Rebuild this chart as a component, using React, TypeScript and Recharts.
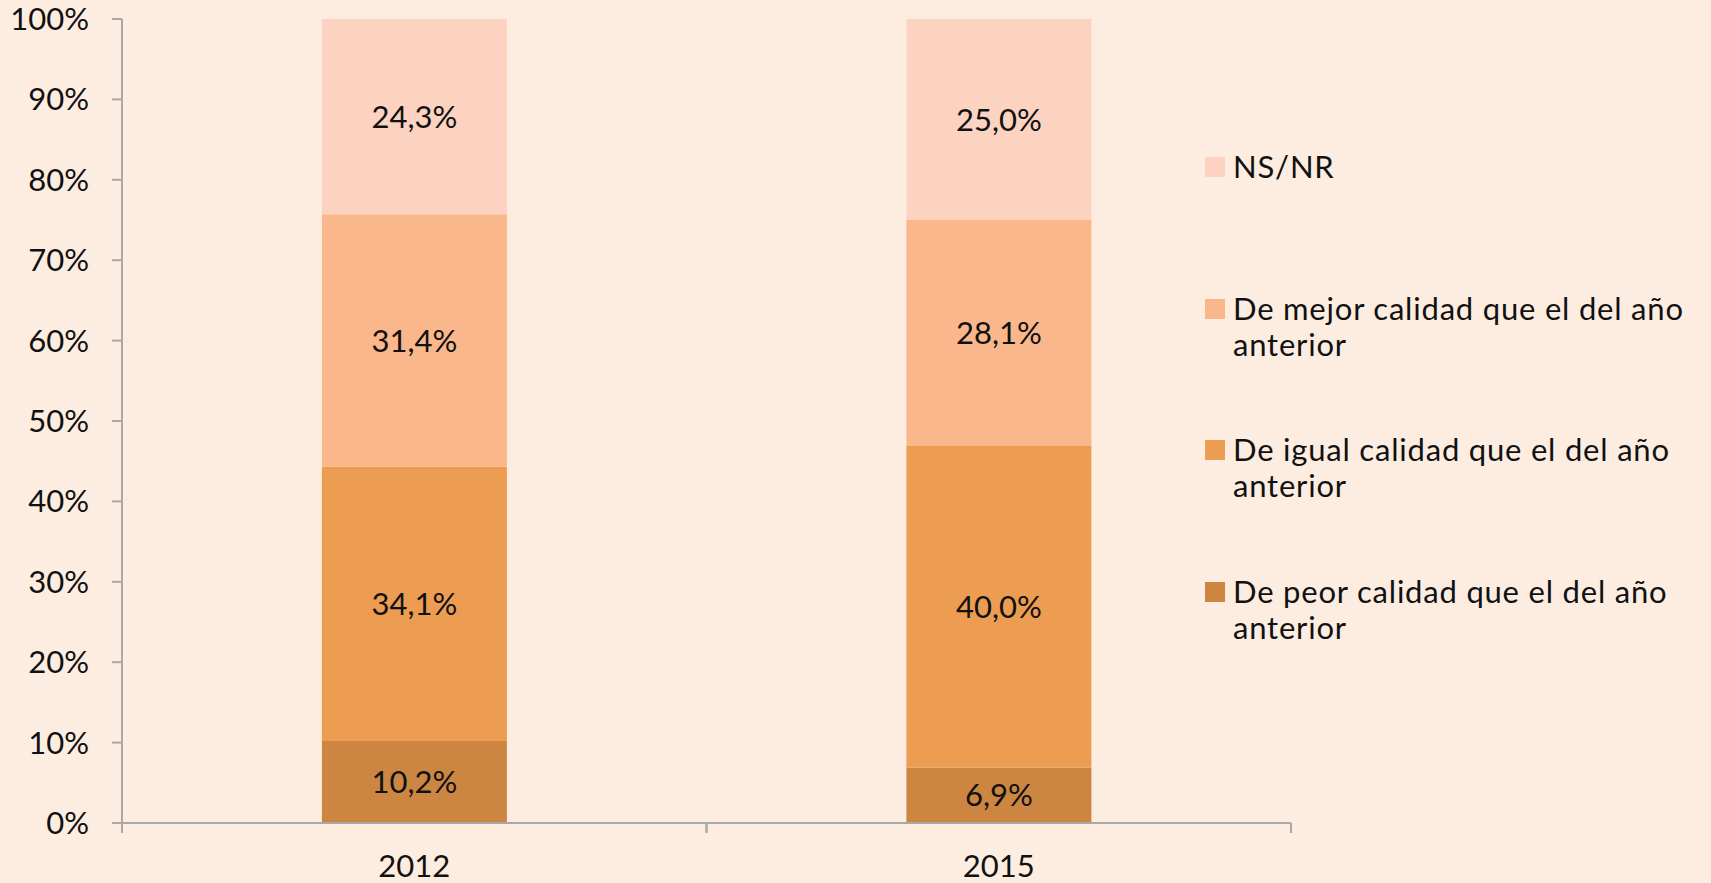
import React from 'react';
import { BarChart, Bar, XAxis, YAxis, LabelList, Legend } from 'recharts';

const categories = ['2012', '2015'];
const seriesKeys = ['peor', 'igual', 'mejor', 'nsnr'];
const seriesNames = [
  'De peor calidad que el del año anterior',
  'De igual calidad que el del año anterior',
  'De mejor calidad que el del año anterior',
  'NS/NR',
];
const peorValues = [10.2, 6.9];
const igualValues = [34.1, 40.0];
const mejorValues = [31.4, 28.1];
const nsnrValues = [24.3, 25.0];
const yTicks = [0, 10, 20, 30, 40, 50, 60, 70, 80, 90, 100];
const seriesColors = ['#CD8642', '#EC9D52', '#FAB78B', '#FCD3C1'];

const BG = '#FDEDE1';
const AXIS = '#A8A8A8';
const FONT = 'Lato, "Noto Sans", sans-serif';
const FS = 31;
const X_TICK_SIZE = 10;
const X_TICK_MARGIN = 22;

const data = categories.map((c, i) => ({
  year: c,
  peor: peorValues[i],
  igual: igualValues[i],
  mejor: mejorValues[i],
  nsnr: nsnrValues[i],
}));

const fmt = (v: any) => `${Number(v).toFixed(1).replace('.', ',')}%`;

const XTick = (props: any) => {
  const { x, y, payload, width, visibleTicksCount } = props;
  const axisY = y - X_TICK_SIZE - X_TICK_MARGIN;
  const half = width && visibleTicksCount ? width / visibleTicksCount / 2 : 0;
  return (
    <g>
      {half > 0 && (
        <>
          <line x1={x - half} x2={x - half} y1={axisY} y2={axisY + X_TICK_SIZE} stroke={AXIS} strokeWidth={2} />
          <line x1={x + half} x2={x + half} y1={axisY} y2={axisY + X_TICK_SIZE} stroke={AXIS} strokeWidth={2} />
        </>
      )}
      <text x={x} y={y} dy="0.71em" textAnchor="middle" fill="#111" fontSize={FS} fontFamily={FONT}>
        {payload.value}
      </text>
    </g>
  );
};

const LegendContent = () => {
  const order = [3, 2, 1, 0];
  return (
    <div style={{ fontFamily: FONT, fontSize: FS, color: '#111', letterSpacing: '0.8px' }}>
      {order.map((i) => (
        <div key={seriesKeys[i]} style={{ display: 'flex', alignItems: 'flex-start', height: 141.5 }}>
          <div style={{ width: 20, height: 20, background: seriesColors[i], marginTop: 9, marginRight: 8, flex: 'none' }} />
          <div style={{ width: 478, lineHeight: '36px' }}>{seriesNames[i]}</div>
        </div>
      ))}
    </div>
  );
};

export default function App() {
  return (
    <div style={{ position: 'fixed', left: 0, top: 0, width: 1711, height: 883, background: BG }}>
      <BarChart
        width={1711}
        height={883}
        data={data}
        margin={{ top: 19, right: 420, bottom: 0, left: 0 }}
        barCategoryGap="34.2%"
      >
        <XAxis
          dataKey="year"
          height={60}
          tickLine={false}
          tickSize={X_TICK_SIZE}
          tickMargin={X_TICK_MARGIN}
          axisLine={{ stroke: AXIS, strokeWidth: 2 }}
          tick={<XTick />}
        />
        <YAxis
          width={122}
          domain={[0, 100]}
          ticks={yTicks}
          tickFormatter={(v: any) => `${v}%`}
          tickSize={10}
          tickMargin={23}
          axisLine={{ stroke: AXIS, strokeWidth: 2 }}
          tickLine={{ stroke: AXIS, strokeWidth: 2 }}
          tick={{ fill: '#111', fontSize: FS, fontFamily: FONT }}
          interval={0}
        />
        <Legend
          verticalAlign="middle"
          align="center"
          layout="vertical"
          content={<LegendContent />}
          wrapperStyle={{ position: 'absolute', left: 1205, top: 148, width: 506, right: 'auto', bottom: 'auto' }}
        />
        {seriesKeys.map((k, i) => (
          <Bar key={k} dataKey={k} name={seriesNames[i]} stackId="a" fill={seriesColors[i]} isAnimationActive={false}>
            <LabelList dataKey={k} position="center" formatter={fmt} fill="#111" fontSize={FS} fontFamily={FONT} />
          </Bar>
        ))}
      </BarChart>
    </div>
  );
}
